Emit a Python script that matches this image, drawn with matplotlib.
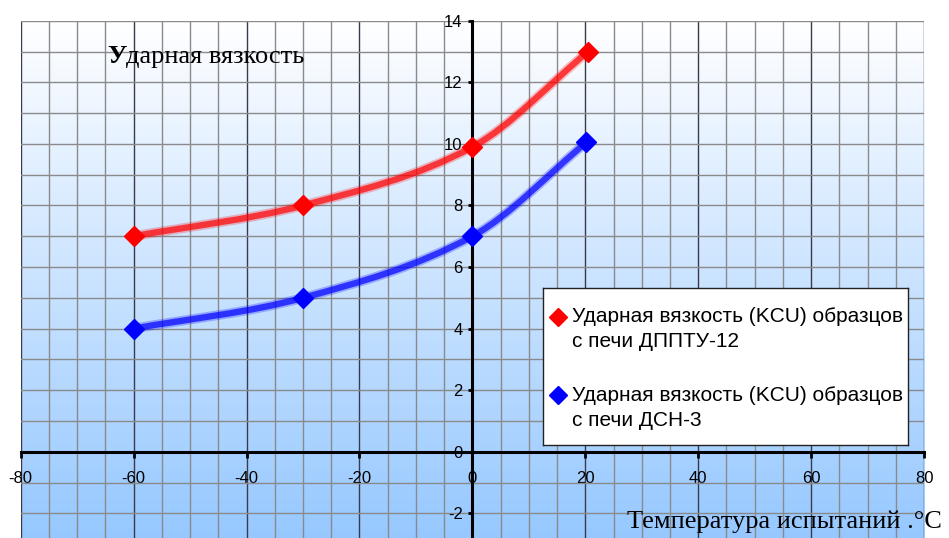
import numpy as np
import matplotlib
matplotlib.use("Agg")
import matplotlib.pyplot as plt
from matplotlib.path import Path
from matplotlib.patches import PathPatch
from matplotlib.ticker import MultipleLocator

plt.rcParams['axes.unicode_minus'] = False
plt.rcParams['font.family'] = ['Liberation Sans', 'DejaVu Sans']

# data
temp_red = [-60, -30, 0, 20.5]
kcu_red = [7.0, 8.0, 9.9, 13.0]
temp_blue = [-60, -30, 0, 20.2]
kcu_blue = [4.0, 5.0, 7.0, 10.05]

labels = ["Ударная вязкость (KCU) образцов\nс печи ДППТУ-12",
          "Ударная вязкость (KCU) образцов\nс печи ДСН-3"]
colors = ["#ff0000", "#0000ff"]


def smooth_path(xs, ys):
    # smoothed line through the points: cubic Hermite segments as Beziers
    x = np.asarray(xs, float)
    y = np.asarray(ys, float)
    n = len(x)
    m = np.empty(n)
    m[0] = (y[1] - y[0]) / (x[1] - x[0])
    m[-1] = (y[-1] - y[-2]) / (x[-1] - x[-2])
    for i in range(1, n - 1):
        m[i] = (y[i + 1] - y[i - 1]) / (x[i + 1] - x[i - 1])
    verts = [(x[0], y[0])]
    codes = [Path.MOVETO]
    for i in range(n - 1):
        h = x[i + 1] - x[i]
        verts += [(x[i] + h / 3, y[i] + m[i] * h / 3),
                  (x[i + 1] - h / 3, y[i + 1] - m[i + 1] * h / 3),
                  (x[i + 1], y[i + 1])]
        codes += [Path.CURVE4] * 3
    return Path(verts, codes)


fig = plt.figure(figsize=(9.49, 5.38), dpi=100)
ax = fig.add_axes([0.0218, 0.0, 0.9519, 0.9615])

# vertical gradient background, white on top to light blue below
grad = np.linspace(0, 1, 256)[:, None]
top = np.array([1.0, 1.0, 1.0])
bot = np.array([150, 200, 255]) / 255
img = top + (bot - top) * grad[..., None]
ax.imshow(img, extent=[-80, 80, -2.8, 14], aspect='auto', zorder=0,
          interpolation='bilinear')
ax.set_xlim(-80, 80)
ax.set_ylim(-2.8, 14)

# grid
ax.xaxis.set_major_locator(MultipleLocator(20))
ax.xaxis.set_minor_locator(MultipleLocator(5))
ax.yaxis.set_major_locator(MultipleLocator(2))
ax.yaxis.set_minor_locator(MultipleLocator(1))
ax.grid(which='minor', color='#8a8a8a', lw=1.0, zorder=1)
ax.grid(which='major', axis='x', color='#3a3a4a', lw=1.0, zorder=1)
ax.grid(which='major', axis='y', color='#8a8a8a', lw=1.0, zorder=1)
ax.set_axisbelow(True)

# axes through zero
for s in ['top', 'right']:
    ax.spines[s].set_visible(False)
ax.spines['left'].set_position(('data', 0))
ax.spines['bottom'].set_position(('data', 0))
ax.spines['left'].set_linewidth(2.2)
ax.spines['bottom'].set_linewidth(2.2)
ax.spines['left'].set_zorder(4)
ax.spines['bottom'].set_zorder(4)
ax.tick_params(axis='x', which='major', direction='out', length=4, width=2,
               pad=10, labelsize=12)
ax.tick_params(axis='y', which='major', direction='out', length=3, width=2,
               pad=4, labelsize=12)
ax.tick_params(which='minor', length=0)

# smoothed curves + markers
for xs, ys, c in [(temp_red, kcu_red, colors[0]), (temp_blue, kcu_blue, colors[1])]:
    ax.add_patch(PathPatch(smooth_path(xs, ys), fill=False, edgecolor=c,
                           lw=7, alpha=0.25, capstyle='round', zorder=3))
    ax.add_patch(PathPatch(smooth_path(xs, ys), fill=False, edgecolor=c,
                           lw=4.5, alpha=0.7, capstyle='round', zorder=3))
    ax.plot(xs, ys, ls='none', marker='D', ms=10, color=c, mec=c, zorder=5)

# titles
t1 = fig.text(0.1128, 0.883, "У", family='Liberation Serif', fontsize=19,
              fontweight='bold', va='baseline', ha='left')
ax.annotate("дарная вязкость", xy=(1, 0), xycoords=t1, va='bottom', ha='left',
            family='Liberation Serif', fontsize=19, annotation_clip=False)
fig.text(0.9926, 0.0186, "Температура испытаний .°C", family='Liberation Serif',
         fontsize=19, va='baseline', ha='right')

# legend box drawn by hand
lax = fig.add_axes([0.5722, 0.1729, 0.3846, 0.2918])
lax.set_xlim(0, 1)
lax.set_ylim(0, 1)
lax.set_xticks([])
lax.set_yticks([])
lax.set_facecolor('white')
for s in lax.spines.values():
    s.set_color('#222222')
    s.set_linewidth(1.0)
for lab, c, y0 in zip(labels, colors, [0.818, 0.316]):
    lax.plot([0.041], [y0], marker='D', ms=9, color=c, ls='none')
    l1, l2 = lab.split("\n")
    lax.text(0.0795, y0, l1, fontsize=15, va='center', ha='left')
    lax.text(0.0795, y0 - 0.16, l2, fontsize=15, va='center', ha='left')

fig.savefig("out.png", dpi=100)
